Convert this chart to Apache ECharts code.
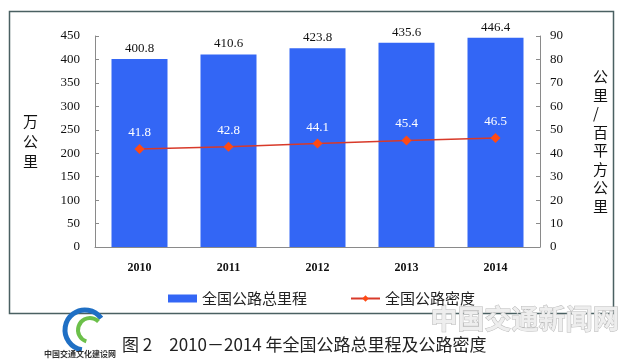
<!DOCTYPE html>
<html><head><meta charset="utf-8">
<script src="https://cdn.jsdelivr.net/npm/echarts@6/dist/echarts.min.js"></script>
<style>html,body{margin:0;padding:0;background:#fff}#c{width:630px;height:361px}</style>
</head><body><div id="c"></div>
<script>
const years = ['2010','2011','2012','2013','2014'];
const mileage = [400.8, 410.6, 423.8, 435.6, 446.4];
const density = [41.8, 42.8, 44.1, 45.4, 46.5];
const leftTicks = {min:0, max:450, interval:50};
const rightTicks = {min:0, max:90, interval:10};
const seriesNames = ['全国公路总里程','全国公路密度'];
const caption = '图 2　2010－2014 年全国公路总里程及公路密度';

const serif = "'Liberation Serif','Times New Roman',serif";
const cjk = "'Noto Sans CJK SC','Noto Sans',sans-serif";
const chart = echarts.init(document.getElementById('c'));
chart.setOption({
  animation:false,
  grid:{left:95, right:90, top:36, bottom:114},
  legend:{
    top:286, left:163, itemGap:43, itemWidth:29, itemHeight:8,
    textStyle:{fontFamily:cjk, fontSize:15, color:'#222'},
    data:[{name:seriesNames[0], icon:'rect'},{name:seriesNames[1]}]
  },
  xAxis:{
    type:'category', data:years, boundaryGap:true,
    axisLine:{lineStyle:{color:'#8a8a8a'}},
    axisTick:{inside:true, length:4, lineStyle:{color:'#8a8a8a'}},
    axisLabel:{fontFamily:serif, fontSize:12, fontWeight:'bold', color:'#111', margin:15}
  },
  yAxis:[{
    type:'value', min:leftTicks.min, max:leftTicks.max, interval:leftTicks.interval,
    name:'万\n公\n里', nameLocation:'middle', nameRotate:0, nameGap:57,
    nameTextStyle:{fontFamily:cjk, fontSize:15, color:'#111', lineHeight:20},
    axisLine:{show:true, lineStyle:{color:'#8a8a8a'}},
    axisTick:{show:true, inside:true, length:4, lineStyle:{color:'#8a8a8a'}},
    splitLine:{show:false},
    axisLabel:{fontFamily:serif, fontSize:13, color:'#111', margin:15}
  },{
    type:'value', min:rightTicks.min, max:rightTicks.max, interval:rightTicks.interval,
    name:'公\n里\n/\n百\n平\n方\n公\n里', nameLocation:'middle', nameRotate:0, nameGap:53,
    nameTextStyle:{fontFamily:cjk, fontSize:15, color:'#111', lineHeight:18.5},
    axisLine:{show:true, lineStyle:{color:'#8a8a8a'}},
    axisTick:{show:true, inside:true, length:4, lineStyle:{color:'#8a8a8a'}},
    splitLine:{show:false},
    axisLabel:{fontFamily:serif, fontSize:13, color:'#111', margin:10}
  }],
  series:[{
    name:seriesNames[0], type:'bar', data:mileage, barWidth:56,
    itemStyle:{color:'#3366f5'},
    label:{show:true, position:'top', distance:4, fontFamily:serif, fontSize:13, color:'#111'}
  },{
    name:seriesNames[1], type:'line', yAxisIndex:1, data:density,
    symbol:'diamond', symbolSize:10,
    lineStyle:{color:'#d83a2a', width:1.5},
    itemStyle:{color:'#ff4a14'},
    label:{show:true, position:'top', distance:5, fontFamily:serif, fontSize:13, color:'#fff'}
  }],
  graphic:[
    {type:'rect', shape:{x:9.5, y:11.5, width:604, height:302}, style:{fill:'none', stroke:'#4a6062', lineWidth:1.5}, z:-1},
    {type:'text', left:122, top:336, style:{text:caption, font:"17px 'Noto Sans CJK SC'", fill:'#222'}},
    {type:'text', left:430, top:305, style:{text:'中国交通新闻网', font:"bold 27px 'Noto Sans CJK SC'", fill:'#eeeeee', stroke:'#b8b8b8', lineWidth:1}},
    {type:'arc', shape:{cx:85, cy:330, r:20, startAngle:Math.PI*0.55, endAngle:Math.PI*1.8}, style:{stroke:'#1f6fc4', lineWidth:5, fill:'none'}},
    {type:'arc', shape:{cx:90, cy:330, r:12, startAngle:Math.PI*0.6, endAngle:Math.PI*1.75}, style:{stroke:'#6cc04a', lineWidth:4, fill:'none'}},
    {type:'text', left:44, top:350, style:{text:'中国交通文化建设网', font:"bold 8px 'Noto Sans CJK SC'", fill:'#333'}}
  ]
});
</script></body></html>
